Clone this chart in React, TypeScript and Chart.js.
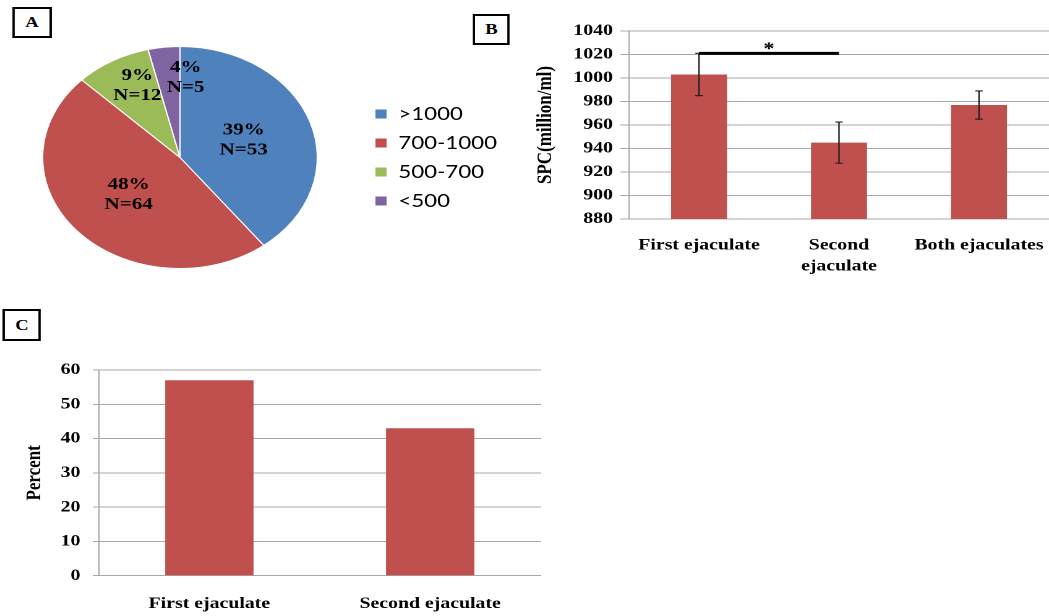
import React, { useEffect, useRef } from "react";
import { Chart, registerables } from "chart.js";

Chart.register(...registerables);

// The whole figure is horizontally stretched in the reference
const S = 1.237;
const SERIF = '"Liberation Serif", "Times New Roman", serif';
const GRID = "#A8A8A8";
const BAR = "#C0504D";

// ---- Panel A (pie) ----
const pieLabels = [">1000", "700-1000", "500-700", "<500"];
const pieCounts = [53, 64, 12, 5];
const piePercents = [39, 48, 9, 4];
const pieColors = ["#4F81BD", "#C0504D", "#9BBB59", "#8064A2"];

// ---- Panel B (SPC by ejaculate) ----
const spcCategories: (string | string[])[] = ["First ejaculate", ["Second", "ejaculate"], "Both ejaculates"];
const spcMeans = [1003, 945, 977];
const spcErrors = [18, 17.5, 12];
const spcTicks = [880, 900, 920, 940, 960, 980, 1000, 1020, 1040];
const sigPair = [0, 1];
const sigLevel = 1021;

// ---- Panel C (percent) ----
const pctCategories = ["First ejaculate", "Second ejaculate"];
const pctValues = [57, 43];
const pctTicks = [0, 10, 20, 30, 40, 50, 60];

// label placement style for the pie (fraction of radius, angular nudge in degrees)
const labelRadius = [0.49, 0.5, 0.72, 0.72];
const labelNudge = [0, 0, 4, 10];

const pieLabelPlugin = {
  id: "pieLabels",
  afterDatasetsDraw(chart: any) {
    const meta = chart.getDatasetMeta(0);
    const ctx = chart.ctx;
    ctx.save();
    ctx.font = `bold 17px ${SERIF}`;
    ctx.fillStyle = "#000";
    ctx.textAlign = "center";
    ctx.textBaseline = "middle";
    meta.data.forEach((arc: any, i: number) => {
      const p = arc.getProps(["x", "y", "startAngle", "endAngle", "outerRadius"], true);
      const a = (p.startAngle + p.endAngle) / 2 + (labelNudge[i] * Math.PI) / 180;
      const r = p.outerRadius * labelRadius[i];
      const cx = p.x + Math.cos(a) * r;
      const cy = p.y + Math.sin(a) * r;
      ctx.fillText(`${piePercents[i]}%`, cx, cy - 10);
      ctx.fillText(`N=${pieCounts[i]}`, cx, cy + 10);
    });
    ctx.restore();
  },
};

const errorBarPlugin = {
  id: "errorBars",
  afterDatasetsDraw(chart: any) {
    const meta = chart.getDatasetMeta(0);
    const y = chart.scales.y;
    const ctx = chart.ctx;
    ctx.save();
    ctx.strokeStyle = "#222";
    ctx.lineWidth = 1.2;
    const cap = 3;
    meta.data.forEach((bar: any, i: number) => {
      const v = spcMeans[i];
      const e = spcErrors[i];
      const yt = y.getPixelForValue(v + e);
      const yb = y.getPixelForValue(v - e);
      ctx.beginPath();
      ctx.moveTo(bar.x, yt);
      ctx.lineTo(bar.x, yb);
      ctx.moveTo(bar.x - cap, yt);
      ctx.lineTo(bar.x + cap, yt);
      ctx.moveTo(bar.x - cap, yb);
      ctx.lineTo(bar.x + cap, yb);
      ctx.stroke();
    });
    const x0 = meta.data[sigPair[0]].x;
    const x1 = meta.data[sigPair[1]].x;
    const ys = y.getPixelForValue(sigLevel);
    ctx.strokeStyle = "#000";
    ctx.lineWidth = 3;
    ctx.beginPath();
    ctx.moveTo(x0, ys);
    ctx.lineTo(x1, ys);
    ctx.stroke();
    ctx.fillStyle = "#000";
    ctx.font = `bold 18px ${SERIF}`;
    ctx.textAlign = "center";
    ctx.textBaseline = "alphabetic";
    ctx.fillText("*", (x0 + x1) / 2, ys + 1);
    ctx.restore();
  },
};

const xTickFont = { family: SERIF, size: 16, weight: "bold" as const, lineHeight: 1.3 };
const yTickFont = { family: SERIF, size: 16, weight: "bold" as const, lineHeight: 1.0 };

function barChart(
  canvas: HTMLCanvasElement,
  labels: any[],
  values: number[],
  ticks: number[],
  yTitle: string,
  geom: { padTop: number; yWidth: number; xHeight: number; tickLen: number; tickPad: number; titlePad: number; xPad: number },
  plugins: any[]
) {
  return new Chart(canvas, {
    type: "bar",
    data: {
      labels,
      datasets: [
        {
          data: values,
          backgroundColor: BAR,
          barPercentage: 0.8,
          categoryPercentage: 0.5,
        },
      ],
    },
    options: {
      responsive: false,
      animation: false,
      devicePixelRatio: 2,
      layout: { padding: { top: geom.padTop, left: 0, right: 0, bottom: 0 } },
      plugins: { legend: { display: false }, tooltip: { enabled: false } },
      scales: {
        x: {
          grid: { display: false, drawTicks: false },
          border: { display: true, color: GRID, width: 1 },
          ticks: { color: "#000", font: xTickFont, padding: geom.xPad, maxRotation: 0, autoSkip: false },
          afterFit: (s: any) => {
            s.height = geom.xHeight;
            s.paddingLeft = 0;
            s.paddingRight = 0;
          },
        },
        y: {
          min: ticks[0],
          max: ticks[ticks.length - 1],
          afterBuildTicks: (s: any) => {
            s.ticks = ticks.map((v) => ({ value: v }));
          },
          ticks: {
            autoSkip: false,
            color: "#000",
            font: yTickFont,
            padding: geom.tickPad,
            callback: (v: any) => String(v),
          },
          grid: { color: GRID, tickLength: geom.tickLen, drawTicks: true, lineWidth: 1 },
          border: { display: true, color: GRID, width: 1 },
          title: {
            display: true,
            text: yTitle,
            color: "#000",
            font: { family: SERIF, size: 17, weight: "bold" },
            padding: { top: geom.titlePad, bottom: 0 },
          },
          afterFit: (s: any) => {
            s.width = geom.yWidth;
            s.paddingTop = 0;
            s.paddingBottom = 0;
          },
        },
      },
    } as any,
    plugins,
  });
}

const boxStyle = (x: number, y: number, w: number, h: number): React.CSSProperties => ({
  position: "absolute",
  left: x / S,
  top: y,
  width: w / S,
  height: h,
  border: "2px solid #000",
  boxSizing: "border-box",
  display: "flex",
  alignItems: "center",
  justifyContent: "center",
  font: `bold 15px ${SERIF}`,
  color: "#000",
  background: "#fff",
});

export default function App() {
  const aRef = useRef<HTMLCanvasElement>(null);
  const bRef = useRef<HTMLCanvasElement>(null);
  const cRef = useRef<HTMLCanvasElement>(null);

  useEffect(() => {
    const pie = new Chart(aRef.current!, {
      type: "pie",
      data: {
        labels: pieLabels,
        datasets: [
          {
            data: pieCounts,
            backgroundColor: pieColors,
            borderColor: "#ffffff",
            borderWidth: 1,
            radius: 111,
          } as any,
        ],
      },
      options: {
        responsive: false,
        animation: false,
        devicePixelRatio: 2,
        layout: { padding: { left: 3, top: 0, right: 0, bottom: 0 } },
        plugins: {
          tooltip: { enabled: false },
          legend: {
            position: "right",
            align: "center",
            maxWidth: 110,
            labels: {
              boxWidth: 10,
              boxHeight: 10,
              padding: 11,
              color: "#000",
              font: { family: "Lato, 'Liberation Sans', sans-serif", size: 18 },
            },
          },
        },
      } as any,
      plugins: [pieLabelPlugin],
    });

    const b = barChart(
      bRef.current!,
      spcCategories,
      spcMeans,
      spcTicks,
      "SPC(million/ml)",
      { padTop: 11, yWidth: 88.5, xHeight: 71, tickLen: 7, tickPad: 6, titlePad: 11, xPad: 16 },
      [errorBarPlugin]
    );

    const c = barChart(
      cRef.current!,
      pctCategories,
      pctValues,
      pctTicks,
      "Percent",
      { padTop: 25, yWidth: 80, xHeight: 40.3, tickLen: 5, tickPad: 10, titlePad: 18, xPad: 18 },
      []
    );

    return () => {
      pie.destroy();
      b.destroy();
      c.destroy();
    };
  }, []);

  return (
    <div
      style={{
        position: "absolute",
        left: 0,
        top: 0,
        width: 1049 / S,
        height: 616,
        transform: `scaleX(${S})`,
        transformOrigin: "0 0",
        background: "#fff",
        overflow: "hidden",
      }}
    >
      <canvas
        ref={aRef}
        width={406}
        height={241}
        style={{ position: "absolute", left: -4, top: 37, width: 406, height: 241 }}
      />
      <canvas
        ref={bRef}
        width={428}
        height={270}
        style={{ position: "absolute", left: 420, top: 20, width: 428, height: 270 }}
      />
      <canvas
        ref={cRef}
        width={437}
        height={271}
        style={{ position: "absolute", left: 0, top: 345, width: 437, height: 271 }}
      />
      <div style={boxStyle(12, 7, 40, 31)}>A</div>
      <div style={boxStyle(473, 14, 37, 31)}>B</div>
      <div style={boxStyle(3, 309, 38, 32)}>C</div>
    </div>
  );
}
